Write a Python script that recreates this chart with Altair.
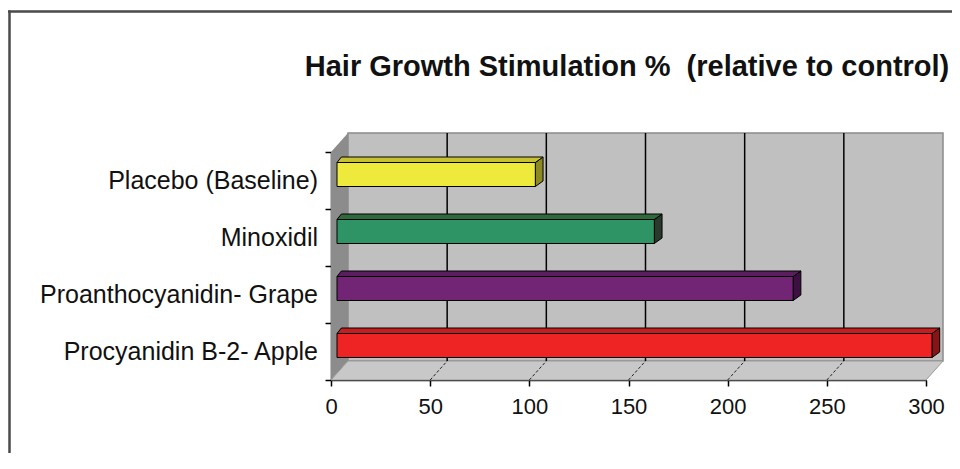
import altair as alt
import pandas as pd

# ---- data ----
categories = ["Procyanidin B-2- Apple", "Proanthocyanidin- Grape", "Minoxidil", "Placebo (Baseline)"]
values = [300, 230, 160, 100]
front_colors = ["#EE2424", "#722574", "#2E9466", "#EEEA3C"]
top_colors = ["#C41E1E", "#5A1E5E", "#2F6A3C", "#C8C232"]
side_colors = ["#8A1414", "#3C1040", "#283A2C", "#8E8A22"]
x_ticks = [0, 50, 100, 150, 200, 250, 300]
title_text = "Hair Growth Stimulation %\u00a0 (relative to control)"

# ---- geometry (pixels) ----
W_PLOT = 595          # front axis length for 0..300
H_PLOT = 228          # front axis height for the 4 categories
DX, DY = 17, 19       # depth of the 3-D box
VIEW_W = W_PLOT + DX + 2
VIEW_H = H_PLOT + DY
XMAX = 300
NCAT = len(categories)
ux = XMAX / W_PLOT
uy = NCAT / H_PLOT
BAR_H = 24            # bar front face height
BAR_TD = 5.5          # bar depth (vertical)
BAR_TL, BAR_TR = 4.4, 7.7   # bar depth (horizontal) left / right
BOX, BOY = 6, -6      # bar front face offset from the front axes

xs = alt.Scale(domain=[0, XMAX], range=[0, W_PLOT], nice=False, zero=False)
ys = alt.Scale(domain=[0, NCAT], range=[VIEW_H, DY], nice=False, zero=False)

X_AX = alt.Axis(values=x_ticks, grid=False, title=None, domainColor="black", domainWidth=1.5,
                tickColor="black", tickWidth=1.5, tickSize=6, labelFontSize=22,
                labelFont="Liberation Sans", labelColor="#111111", labelPadding=10, labelFlush=False)
Y_AX = alt.Axis(values=list(range(NCAT + 1)), grid=False, title=None, labels=False,
                domainColor="black", domainWidth=1.5, tickColor="black", tickWidth=1.5, tickSize=6)


def X(f):
    return alt.X(f + ":Q", scale=xs, axis=X_AX)


def Y(f):
    return alt.Y(f + ":Q", scale=ys, axis=Y_AX)


# back wall
back_df = pd.DataFrame({"x": [0], "x2": [XMAX], "y": [0], "y2": [NCAT]})
back = alt.Chart(back_df).mark_rect(
    xOffset=DX, x2Offset=DX, yOffset=-DY, y2Offset=-DY, fill="#C0C0C0", stroke="#8A8A8A", strokeWidth=1.5
).encode(x=X("x"), x2="x2:Q", y=Y("y"), y2="y2:Q")

# left wall
lw_df = pd.DataFrame({"x": [0, DX * ux], "y": [0, DY * uy], "y2": [NCAT, NCAT + DY * uy]})
left_wall = alt.Chart(lw_df).mark_area(orient="vertical", fill="#8C8C8C").encode(
    x=X("x"), y=Y("y"), y2="y2:Q")

# floor
fl_df = pd.DataFrame({"y": [0, DY * uy], "x": [0, DX * ux], "x2": [XMAX, XMAX + DX * ux]})
floor = alt.Chart(fl_df).mark_area(orient="horizontal", fill="#C8C8C8", stroke="#9A9A9A",
                                   strokeWidth=1).encode(x=X("x"), x2="x2:Q", y=Y("y"))

# gridlines on the back wall
grid_vals = x_ticks[1:-1]
g_df = pd.DataFrame({"x": grid_vals, "y": [0] * len(grid_vals), "y2": [NCAT] * len(grid_vals)})
grid = alt.Chart(g_df).mark_rule(xOffset=DX, yOffset=-DY, y2Offset=-DY, color="black",
                                 strokeWidth=1.5).encode(x=X("x"), y=Y("y"), y2="y2:Q")

# gridlines on the floor
fg_df = pd.DataFrame({"x": grid_vals, "x2": [v + DX * ux for v in grid_vals],
                      "y": [0] * len(grid_vals), "y2": [DY * uy] * len(grid_vals)})
fgrid = alt.Chart(fg_df).mark_rule(color="#222222", strokeWidth=1, strokeDash=[3, 2]).encode(
    x=X("x"), x2="x2:Q", y=Y("y"), y2="y2:Q")

# bars
rows_front, rows_top, rows_side = [], [], []
for i, (c, v) in enumerate(zip(categories, values)):
    ymid = i + 0.5
    ylo = ymid - BAR_H / 2 * uy
    yhi = ymid + BAR_H / 2 * uy
    rows_front.append({"cat": c, "x": 0, "x2": v, "y": ylo, "y2": yhi, "fc": front_colors[i]})
    rows_top.append({"cat": c, "y": yhi, "x": 0, "x2": v, "fc": top_colors[i]})
    rows_top.append({"cat": c, "y": yhi + BAR_TD * uy, "x": BAR_TL * ux, "x2": v + BAR_TR * ux,
                     "fc": top_colors[i]})
    rows_side.append({"cat": c, "x": v, "y": ylo, "y2": yhi, "fc": side_colors[i]})
    rows_side.append({"cat": c, "x": v + BAR_TR * ux, "y": ylo + BAR_TD * uy, "y2": yhi + BAR_TD * uy,
                      "fc": side_colors[i]})

offs = dict(xOffset=BOX, x2Offset=BOX, yOffset=BOY, y2Offset=BOY, stroke="black", strokeWidth=1)
bar_front = alt.Chart(pd.DataFrame(rows_front)).mark_rect(**offs).encode(
    x=X("x"), x2="x2:Q", y=Y("y"), y2="y2:Q", fill=alt.Fill("fc:N", scale=None))
bar_top = alt.Chart(pd.DataFrame(rows_top)).mark_area(orient="horizontal", **offs).encode(
    x=X("x"), x2="x2:Q", y=Y("y"), detail="cat:N", fill=alt.Fill("fc:N", scale=None))
bar_side = alt.Chart(pd.DataFrame(rows_side)).mark_area(orient="vertical", **offs).encode(
    x=X("x"), y=Y("y"), y2="y2:Q", detail="cat:N", fill=alt.Fill("fc:N", scale=None))

# category labels
lab_df = pd.DataFrame({"cat": categories, "y": [i + 0.5 for i in range(NCAT)]})
labels = alt.Chart(lab_df).mark_text(align="right", baseline="middle", font="Liberation Sans",
                                     fontSize=25, color="#111111").encode(
    x=alt.value(-13), y=Y("y"), text="cat:N")

# title
t_df = pd.DataFrame({"t": [title_text]})
title = alt.Chart(t_df).mark_text(align="center", baseline="middle", font="Liberation Sans",
                                  fontSize=29, fontWeight="bold", color="#111111").encode(
    x=alt.value(296), y=alt.value(-66), text="t:N")

# outer frame (left and top edges)
PAD_L, PAD_T, PAD_R, PAD_B = 323, 125, 7, 73
frame_df = pd.DataFrame({"k": [0]})
frame_top = alt.Chart(frame_df).mark_rule(color="#4A4A4A", strokeWidth=2.5).encode(
    x=alt.value(-PAD_L), x2=alt.value(VIEW_W + PAD_R), y=alt.value(-PAD_T + 3.5))
frame_left = alt.Chart(frame_df).mark_rule(color="#4A4A4A", strokeWidth=2.5).encode(
    x=alt.value(-PAD_L + 1.5), y=alt.value(-PAD_T + 2.5), y2=alt.value(VIEW_H + PAD_B))

chart = alt.layer(
    back, left_wall, floor, grid, fgrid, bar_side, bar_top, bar_front, labels, title,
    frame_top, frame_left
).properties(
    width=VIEW_W, height=VIEW_H,
    autosize=alt.AutoSizeParams(type="none"),
    padding={"left": PAD_L, "top": PAD_T, "right": PAD_R, "bottom": PAD_B},
    background="white",
).configure_view(stroke=None)

chart.save("out.html", embed_options={"renderer": "svg", "actions": False})
